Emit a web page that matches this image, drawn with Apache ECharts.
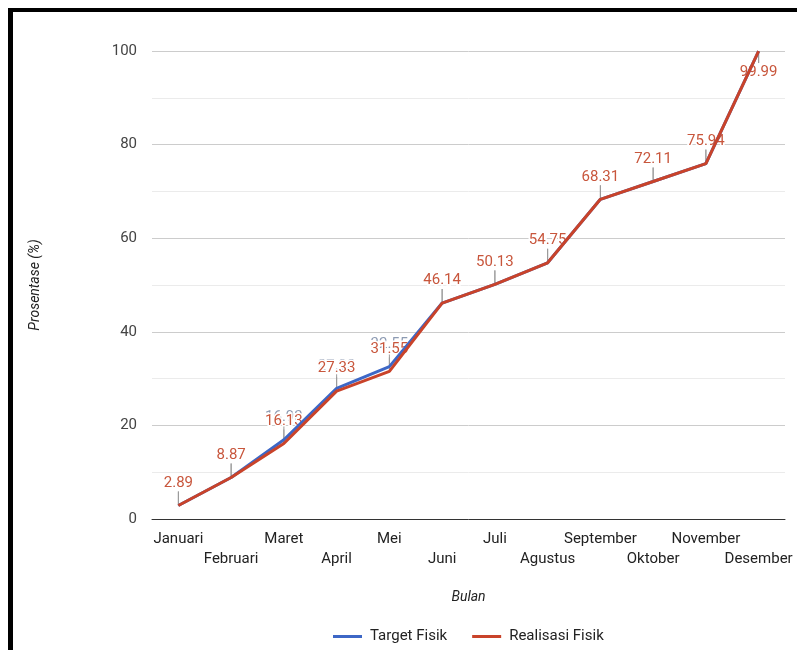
<!DOCTYPE html>
<html>
<head>
<meta charset="utf-8">
<title>Target dan Realisasi Fisik</title>
<script src="https://cdn.jsdelivr.net/npm/echarts@6/dist/echarts.min.js"></script>
<style>
  html, body { margin: 0; padding: 0; background: #fff; }
  #chart { width: 797px; height: 650px; }
</style>
</head>
<body>
<div id="chart"></div>
<script>
// Monthly cumulative physical progress (%)
const months = ['Januari', 'Februari', 'Maret', 'April', 'Mei', 'Juni', 'Juli',
  'Agustus', 'September', 'Oktober', 'November', 'Desember'];
const targetFisik = [2.89, 8.87, 16.93, 27.93, 32.55, 46.14, 50.13, 54.75, 68.31, 72.11, 75.94, 99.99];
const realisasiFisik = [2.89, 8.87, 16.13, 27.33, 31.55, 46.14, 50.13, 54.75, 68.31, 72.11, 75.94, 99.99];
const yTicks = [0, 20, 40, 60, 80, 100];

const FONT = 'Roboto, "Noto Sans", sans-serif';
const BLUE = '#3d67c6';
const RED = '#c9432a';
const GRID = { left: 152, right: 12, top: 51, bottom: 131 };

// Annotation: short grey stem from the point, value text at its end.
function annotation(values, textColor) {
  return function (params, api) {
    const i = params.dataIndex;
    const pt = api.coord([i, values[i]]);
    const flip = pt[1] - 34 < GRID.top;   // no room above: hang it below
    const stemEnd = flip ? pt[1] + 12 : pt[1] - 14;
    return {
      type: 'group',
      children: [
        { type: 'line', shape: { x1: pt[0], y1: pt[1], x2: pt[0], y2: stemEnd },
          style: { stroke: '#9a9a9a', lineWidth: 1 } },
        { type: 'text',
          style: { x: pt[0], y: flip ? stemEnd + 2 : stemEnd - 1, text: values[i].toFixed(2),
            fill: textColor, font: '15px ' + FONT, align: 'center',
            stroke: '#ffffff', lineWidth: 3,
            verticalAlign: flip ? 'top' : 'bottom' } }
      ]
    };
  };
}

const chart = echarts.init(document.getElementById('chart'), null, { renderer: 'canvas' });
chart.setOption({
  backgroundColor: '#fff',
  animation: false,
  textStyle: { fontFamily: FONT },
  grid: GRID,
  legend: {
    top: 624, left: 328,
    itemWidth: 29, itemHeight: 3, itemGap: 25,
    icon: 'rect',
    textStyle: { fontSize: 15, color: '#222', fontFamily: FONT, padding: [0, 0, 0, 3] },
    data: ['Target Fisik', 'Realisasi Fisik']
  },
  xAxis: {
    type: 'category',
    data: months,
    boundaryGap: true,
    name: 'Bulan', nameLocation: 'middle', nameGap: 71,
    nameTextStyle: { fontStyle: 'italic', fontSize: 14, color: '#222', fontFamily: FONT },
    axisLine: { lineStyle: { color: '#333', width: 1 } },
    axisTick: { show: false },
    axisLabel: {
      interval: 0, fontSize: 15, color: '#222', margin: 10, lineHeight: 20,
      formatter: (v, i) => (i % 2 === 0 ? v : '\n' + v)
    }
  },
  yAxis: {
    type: 'value', min: 0, max: 100, interval: 10,
    name: 'Prosentase (%)', nameLocation: 'middle', nameGap: 110,
    nameTextStyle: { fontStyle: 'italic', fontSize: 14, color: '#222', fontFamily: FONT },
    axisLine: { show: false },
    axisTick: { show: false },
    axisLabel: {
      fontSize: 15, color: '#444', margin: 15,
      formatter: v => (yTicks.indexOf(v) >= 0 ? String(v) : '')
    },
    splitLine: { lineStyle: { color: ['#cccccc', '#ebebeb'], width: 1 } }
  },
  series: [
    { type: 'custom', data: targetFisik.map((v, i) => [i, v]), renderItem: annotation(targetFisik, '#8d9bb3'),
      z: 1, silent: true, legendHoverLink: false },
    { type: 'custom', data: realisasiFisik.map((v, i) => [i, v]), renderItem: annotation(realisasiFisik, '#c8563c'),
      z: 1, silent: true, legendHoverLink: false },
    { name: 'Target Fisik', type: 'line', data: targetFisik, color: BLUE,
      lineStyle: { width: 3, color: BLUE }, showSymbol: false, symbol: 'none', z: 2 },
    { name: 'Realisasi Fisik', type: 'line', data: realisasiFisik, color: RED,
      lineStyle: { width: 3, color: RED }, showSymbol: false, symbol: 'none', z: 3 }
  ],
  graphic: [
    { type: 'rect', left: 8, top: 8, shape: { width: 5, height: 642 }, style: { fill: '#000' } },
    { type: 'rect', left: 8, top: 8, shape: { width: 789, height: 4 }, style: { fill: '#000' } }
  ]
});
</script>
</body>
</html>
